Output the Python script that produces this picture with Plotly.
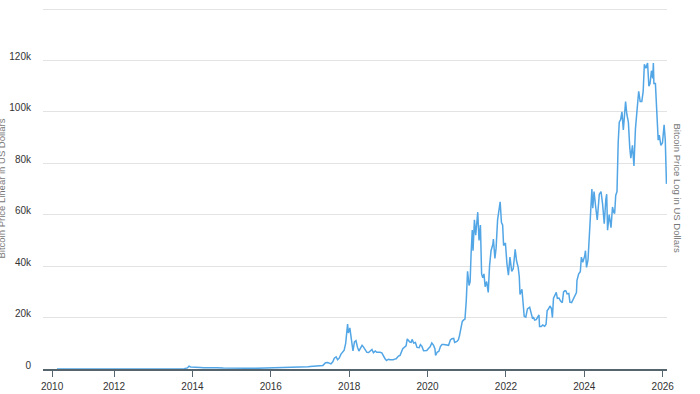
import plotly.graph_objects as go

dates = [
    "2010-07-18", "2010-10-15", "2011-01-15", "2011-04-15", "2011-06-08", "2011-07-15",
    "2011-09-15", "2011-11-15", "2012-01-15", "2012-06-15", "2012-09-15", "2013-01-15",
    "2013-03-15", "2013-04-10", "2013-05-15", "2013-07-15", "2013-10-15", "2013-11-15",
    "2013-11-30", "2013-12-15", "2014-01-01", "2014-02-15", "2014-03-15", "2014-04-15",
    "2014-06-15", "2014-08-15", "2014-10-15", "2014-12-15", "2015-01-15", "2015-03-15",
    "2015-06-15", "2015-08-15", "2015-11-15", "2016-01-15", "2016-04-15", "2016-06-15",
    "2016-08-15", "2016-10-15", "2016-12-15", "2017-01-01", "2017-02-15", "2017-03-15",
    "2017-04-15", "2017-05-01", "2017-05-25", "2017-06-15", "2017-07-15", "2017-08-01",
    "2017-08-15", "2017-09-01", "2017-09-15", "2017-10-01", "2017-10-15", "2017-11-01",
    "2017-11-15", "2017-11-29", "2017-12-08", "2017-12-17", "2017-12-24", "2018-01-07",
    "2018-01-15", "2018-01-22", "2018-02-05", "2018-02-19", "2018-03-05", "2018-03-19",
    "2018-04-01", "2018-04-15", "2018-05-01", "2018-05-15", "2018-06-01", "2018-06-15",
    "2018-07-01", "2018-07-22", "2018-08-01", "2018-08-15", "2018-09-01", "2018-09-15",
    "2018-10-01", "2018-10-15", "2018-11-01", "2018-11-20", "2018-12-01", "2018-12-15",
    "2019-01-01", "2019-01-15", "2019-02-01", "2019-02-15", "2019-03-01", "2019-03-15",
    "2019-04-05", "2019-04-20", "2019-05-15", "2019-06-01", "2019-06-15", "2019-06-26",
    "2019-07-08", "2019-07-20", "2019-08-01", "2019-08-10", "2019-08-25", "2019-09-10",
    "2019-09-25", "2019-10-15", "2019-10-27", "2019-11-10", "2019-11-25", "2019-12-10",
    "2019-12-25", "2020-01-10", "2020-01-25", "2020-02-10", "2020-02-25", "2020-03-10",
    "2020-03-16", "2020-04-01", "2020-04-15", "2020-05-01", "2020-05-15", "2020-06-01",
    "2020-06-15", "2020-07-01", "2020-07-15", "2020-08-01", "2020-08-15", "2020-09-01",
    "2020-09-10", "2020-10-01", "2020-10-15", "2020-10-25", "2020-11-05", "2020-11-20",
    "2020-12-01", "2020-12-15", "2020-12-27", "2021-01-08", "2021-01-22", "2021-02-01",
    "2021-02-10", "2021-02-21", "2021-02-28", "2021-03-13", "2021-03-25", "2021-04-01",
    "2021-04-13", "2021-04-25", "2021-05-08", "2021-05-19", "2021-05-30", "2021-06-10",
    "2021-06-21", "2021-07-05", "2021-07-20", "2021-08-01", "2021-08-15", "2021-09-01",
    "2021-09-06", "2021-09-20", "2021-10-01", "2021-10-15", "2021-10-25", "2021-11-08",
    "2021-11-20", "2021-12-01", "2021-12-10", "2021-12-27", "2022-01-10", "2022-01-24",
    "2022-02-07", "2022-02-24", "2022-03-10", "2022-03-28", "2022-04-10", "2022-04-25",
    "2022-05-05", "2022-05-12", "2022-05-30", "2022-06-13", "2022-06-20", "2022-07-05",
    "2022-07-20", "2022-08-10", "2022-08-25", "2022-09-05", "2022-09-15", "2022-09-26",
    "2022-10-10", "2022-10-25", "2022-11-05", "2022-11-10", "2022-11-25", "2022-12-10",
    "2022-12-28", "2023-01-10", "2023-01-20", "2023-02-01", "2023-02-15", "2023-03-01",
    "2023-03-10", "2023-03-20", "2023-04-01", "2023-04-15", "2023-04-25", "2023-05-10",
    "2023-05-25", "2023-06-10", "2023-06-22", "2023-07-05", "2023-07-15", "2023-07-25",
    "2023-08-10", "2023-08-20", "2023-09-05", "2023-09-20", "2023-10-05", "2023-10-20",
    "2023-10-25", "2023-11-10", "2023-11-25", "2023-12-05", "2023-12-18", "2024-01-05",
    "2024-01-12", "2024-01-22", "2024-02-05", "2024-02-15", "2024-02-28", "2024-03-12",
    "2024-03-20", "2024-04-01", "2024-04-15", "2024-05-01", "2024-05-20", "2024-06-05",
    "2024-06-20", "2024-07-05", "2024-07-20", "2024-07-28", "2024-08-05", "2024-08-20",
    "2024-09-06", "2024-09-20", "2024-10-01", "2024-10-10", "2024-10-20", "2024-11-01",
    "2024-11-12", "2024-11-22", "2024-12-05", "2024-12-17", "2024-12-30", "2025-01-07",
    "2025-01-20", "2025-02-01", "2025-02-15", "2025-02-28", "2025-03-10", "2025-03-25",
    "2025-04-08", "2025-04-22", "2025-05-10", "2025-05-22", "2025-06-05", "2025-06-20",
    "2025-07-03", "2025-07-14", "2025-07-28", "2025-08-13", "2025-08-25", "2025-09-05",
    "2025-09-18", "2025-09-30", "2025-10-06", "2025-10-11", "2025-10-25", "2025-11-05",
    "2025-11-20", "2025-11-30", "2025-12-15", "2025-12-30", "2026-01-14", "2026-01-25",
    "2026-02-05",
]

prices = [
    0.06, 0.1, 0.3, 0.8, 28, 14,
    5, 3, 6, 6.5, 12, 14,
    50, 200, 120, 70, 140, 420,
    1100, 780, 800, 650, 600, 450,
    620, 500, 350, 320, 210, 260,
    230, 270, 380, 430, 420, 700,
    580, 620, 900, 1000, 1050, 1200,
    1200, 1400, 2400, 2500, 2000, 2800,
    4200, 4700, 3600, 4300, 5700, 6700,
    7300, 10000, 15000, 17500, 14000, 16000,
    13500, 11000, 7000, 10500, 11000, 8500,
    7000, 8000, 9200, 8500, 7500, 6500,
    6400, 7400, 7600, 6300, 7000, 6500,
    6600, 6500, 6300, 4500, 4000, 3300,
    3800, 3600, 3450, 3600, 3850, 3950,
    5000, 5300, 7900, 8500, 9000, 11700,
    11000, 10500, 10400, 11500, 10100, 10300,
    8400, 8300, 9500, 8800, 7100, 7300,
    7200, 8000, 8600, 10100, 9300, 7900,
    5300, 6600, 6800, 8800, 9500, 9500,
    9400, 9200, 9200, 11300, 11800, 11900,
    10300, 10700, 11400, 13000, 15500, 18500,
    19000, 19400, 26500, 38000, 32500, 34000,
    44800, 54000, 46000, 58000, 52000, 57000,
    61000, 50000, 56000, 37000, 35500, 37000,
    32000, 34000, 29800, 40000, 46000, 48500,
    50500, 43000, 47000, 58000, 61000, 65000,
    57000, 56000, 48000, 49000, 41000, 36500,
    43500, 38000, 39000, 46500, 42000, 39500,
    36000, 29000, 31000, 22500, 20500, 20200,
    23400, 24000, 21500, 19800, 20000, 19000,
    19200, 20200, 21000, 16500, 16500, 17100,
    16600, 17400, 22700, 23300, 24500, 23500,
    20000, 27500, 28400, 29800, 27500, 27600,
    26400, 25800, 30000, 30500, 30300, 29200,
    29400, 26000, 25800, 27100, 27800, 29700,
    34500, 37000, 37800, 43500, 41500, 44000,
    46000, 39500, 42500, 52000, 62000, 70000,
    62500, 69000, 63500, 58000, 68000, 69000,
    64000, 56500, 66000, 68000, 54000, 60000,
    55000, 63000, 61000, 60500, 67500, 69000,
    88000, 96000, 97000, 100000, 93000, 97000,
    104000, 99000, 96000, 86000, 82000, 87000,
    79000, 93500, 103000, 108000, 104000, 104000,
    108000, 118500, 117000, 119000, 110000, 111000,
    116000, 113000, 119000, 111000, 111000, 103000,
    89000, 91000, 87000, 88000, 95000, 89000,
    72000,
]

x_tick_vals = ["2010-06-03", "2012-01-01", "2014-01-01", "2016-01-01", "2018-01-01",
               "2020-01-01", "2022-01-01", "2024-01-01", "2026-01-01"]
x_tick_text = ["2010", "2012", "2014", "2016", "2018", "2020", "2022", "2024", "2026"]
y_tick_vals = [0, 20000, 40000, 60000, 80000, 100000, 120000, 140000]
y_tick_text = ["0", "20k", "40k", "60k", "80k", "100k", "120k", ""]

left_title = "Bitcoin Price Linear in US Dollars"
right_title = "Bitcoin Price Log in US Dollars"

fig = go.Figure()
fig.add_trace(go.Scatter(
    x=dates, y=prices, mode="lines",
    line=dict(color="#52a6e6", width=1.5),
    hoverinfo="skip",
))

font_family = "Liberation Sans, Arial, sans-serif"

fig.update_layout(
    template="none",
    width=700, height=394,
    margin=dict(l=43, r=33, t=8, b=25, autoexpand=False),
    paper_bgcolor="white", plot_bgcolor="white",
    showlegend=False,
    font=dict(family=font_family, size=10, color="#333333"),
    xaxis=dict(
        range=["2010-03-10", "2026-02-10"],
        tickvals=x_tick_vals, ticktext=x_tick_text,
        showgrid=False, zeroline=False, automargin=False,
        showline=True, linecolor="#56646e", linewidth=1.5,
        ticks="outside", ticklen=6, tickwidth=1, tickcolor="#56646e",
        ticklabelstandoff=1,
        tickfont=dict(size=10, color="#333333"),
    ),
    yaxis=dict(
        range=[0, 140400],
        tickvals=y_tick_vals, ticktext=y_tick_text,
        showgrid=True, gridcolor="#e3e3e3", gridwidth=1,
        zeroline=False, showline=False, automargin=False,
        ticks="", ticklabelstandoff=11, ticklabelshift=-4,
        tickfont=dict(size=10, color="#333333"),
    ),
    annotations=[
        dict(text=left_title, xref="paper", yref="paper",
             x=(1 - 43) / 624, y=0.5, xanchor="center", yanchor="middle",
             textangle=-90, showarrow=False,
             font=dict(size=9.5, color="#777777", family=font_family)),
        dict(text=right_title, xref="paper", yref="paper",
             x=(677 - 43) / 624, y=0.5, xanchor="center", yanchor="middle",
             textangle=90, showarrow=False,
             font=dict(size=9.5, color="#777777", family=font_family)),
    ],
)

fig.write_html("out.html")
